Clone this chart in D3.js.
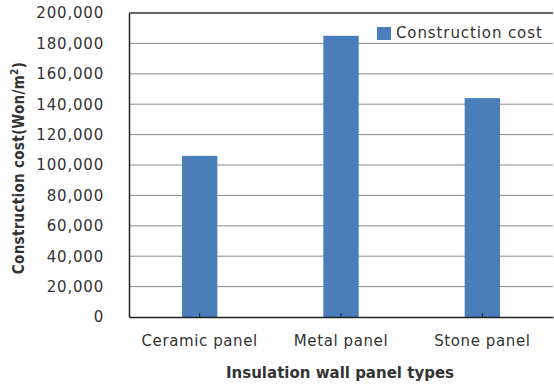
<!DOCTYPE html>
<html>
<head>
<meta charset="utf-8">
<script src="https://cdn.jsdelivr.net/npm/d3@7"></script>
<style>
  body { margin: 0; background: #fff; }
  text { font-family: "DejaVu Sans", Verdana, sans-serif; fill: #333; }
</style>
</head>
<body>
<div id="chart"></div>
<script>
var width = 554;
var height = 386;
var categories = ["Ceramic panel", "Metal panel", "Stone panel"];
var costs = [106000, 185000, 144000];
var yTicks = [0, 20000, 40000, 60000, 80000, 100000, 120000, 140000, 160000, 180000, 200000];
var seriesName = "Construction cost";
var barColor = "#4a7ebb";

var plot = { left: 129, right: 553, top: 13, bottom: 317 };

var svg = d3.select("#chart")
    .append("svg")
    .attr("width", width)
    .attr("height", height);

var x = d3.scaleBand()
    .domain(categories)
    .range([plot.left, plot.right])
    .paddingInner(0.75)
    .paddingOuter(0.375);

var y = d3.scaleLinear()
    .domain([0, 200000])
    .range([plot.bottom, plot.top]);

// gridlines
svg.selectAll("line.grid")
    .data(yTicks.filter(function (d) { return d > 0; }))
    .enter()
    .append("line")
    .attr("class", "grid")
    .attr("x1", plot.left)
    .attr("x2", plot.right)
    .attr("y1", function (d) { return y(d); })
    .attr("y2", function (d) { return y(d); })
    .attr("stroke", function (d) { return d === 200000 ? "#333" : "#8a8a8a"; })
    .attr("stroke-width", function (d) { return d === 200000 ? 1.5 : 1; });

// bars
svg.selectAll("rect.bar")
    .data(costs)
    .enter()
    .append("rect")
    .attr("class", "bar")
    .attr("x", function (d, i) { return x(categories[i]); })
    .attr("width", x.bandwidth())
    .attr("y", function (d) { return y(d); })
    .attr("height", function (d) { return plot.bottom - y(d); })
    .attr("fill", barColor);

// y axis
var yAxis = svg.append("g")
    .attr("transform", "translate(" + plot.left + ",0)")
    .call(d3.axisLeft(y).tickValues(yTicks).tickSize(0).tickPadding(25)
        .tickFormat(d3.format(",")));
yAxis.select(".domain").attr("stroke", "#222").attr("stroke-width", 1.5);
yAxis.selectAll("text")
    .style("font-size", "15px")
    .style("letter-spacing", "0.8px")
    .attr("fill", "#333");

// x axis
var xAxis = svg.append("g")
    .attr("transform", "translate(0," + plot.bottom + ")")
    .call(d3.axisBottom(x).tickSizeInner(-4).tickSizeOuter(0).tickPadding(18));
xAxis.select(".domain").attr("stroke", "#222").attr("stroke-width", 1.5);
xAxis.selectAll(".tick line").attr("stroke", "#222");
xAxis.selectAll("text")
    .style("font-size", "15px")
    .style("letter-spacing", "0.6px")
    .attr("fill", "#333");

// x title
svg.append("text")
    .attr("x", 340)
    .attr("y", 378)
    .attr("text-anchor", "middle")
    .style("font-size", "15px")
    .style("font-weight", "bold")
    .text("Insulation wall panel types");

// y title
var yTitle = svg.append("text")
    .attr("transform", "translate(24,168) rotate(-90)")
    .attr("text-anchor", "middle")
    .style("font-family", "'DejaVu Sans Condensed', 'DejaVu Sans', sans-serif")
    .style("font-stretch", "condensed")
    .style("font-size", "15px")
    .style("font-weight", "bold")
    .style("letter-spacing", "0.3px");
yTitle.append("tspan").text("Construction cost(Won/m");
yTitle.append("tspan").attr("dy", -6).style("font-size", "10px").text("2");
yTitle.append("tspan").attr("dy", 6).text(")");

// legend
var legend = svg.append("g").attr("transform", "translate(377,27)");
legend.append("rect")
    .attr("width", 14)
    .attr("height", 13)
    .attr("fill", barColor);
legend.append("text")
    .attr("x", 19)
    .attr("y", 11)
    .style("font-size", "15px")
    .style("letter-spacing", "0.9px")
    .text(seriesName);
</script>
</body>
</html>
